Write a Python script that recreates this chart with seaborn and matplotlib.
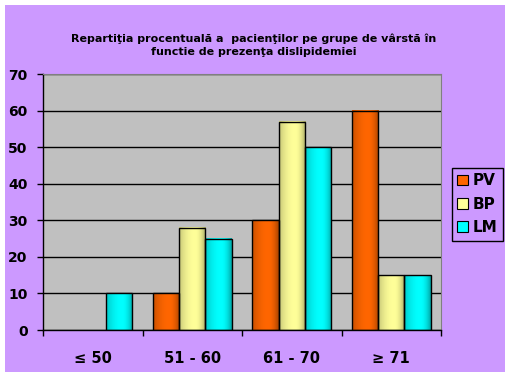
import numpy as np
import pandas as pd
import seaborn as sns
import matplotlib.pyplot as plt
from matplotlib.patches import Rectangle
from matplotlib.colors import to_rgb

# data
groups = ["≤ 50", "51 - 60", "61 - 70", "≥ 71"]
series = ["PV", "BP", "LM"]
pv = [0, 10, 30, 60]
bp = [0, 28, 57, 15]
lm = [10, 25, 50, 15]
yticks = [0, 10, 20, 30, 40, 50, 60, 70]
title = "Repartiţia procentuală a  pacienţilor pe grupe de vârstă în\nfunctie de prezenţa dislipidemiei"

colors = {"PV": "#FF6600", "BP": "#FFFF99", "LM": "#00FFFF"}
lilac = "#CC99FF"

df = pd.DataFrame({"grupa": groups * 3,
                   "serie": np.repeat(series, len(groups)),
                   "val": pv + bp + lm})

sns.set_style("ticks")
plt.rcParams["font.family"] = ["DejaVu Sans"]
plt.rcParams["text.color"] = "black"
plt.rcParams["xtick.color"] = "black"
plt.rcParams["ytick.color"] = "black"

W, H = 511, 377
fig = plt.figure(figsize=(W / 100, H / 100), dpi=100, facecolor="white")
fig.add_artist(Rectangle((5 / W, 5 / H), 500 / W, 367 / H, transform=fig.transFigure,
                         facecolor=lilac, edgecolor="none", zorder=-5))

ax = fig.add_axes([43 / W, 47 / H, 398 / W, 256 / H])
sns.barplot(data=df, x="grupa", y="val", hue="serie", order=groups, hue_order=series,
            palette=colors, saturation=1, width=0.79, edgecolor="black", linewidth=1,
            legend=False, ax=ax)

# cylinder-ish shading on every bar (darker left, darkest right edge)
t = np.linspace(0, 1, 64)
fac = np.where(t < 0.6, 1 - 0.22 * ((t - 0.6) / 0.6) ** 2,
               1 - 0.35 * ((t - 0.6) / 0.4) ** 2)
for p in list(ax.patches):
    h = p.get_height()
    if h <= 0:
        p.set_visible(False)
        continue
    base = np.array(to_rgb(p.get_facecolor()))
    grad = np.clip(base[None, None, :] * fac[None, :, None], 0, 1)
    x0 = p.get_x()
    ax.imshow(grad, extent=[x0, x0 + p.get_width(), p.get_y(), p.get_y() + h],
              aspect="auto", interpolation="bilinear", zorder=2.4)
    p.set_facecolor("none")
    p.set_zorder(2.5)

ax.set_facecolor("#C0C0C0")
ax.set_xlim(-0.5, len(groups) - 0.5)
ax.set_ylim(0, 70)
ax.set_yticks(yticks)
ax.set_yticklabels([str(v) for v in yticks], fontweight="bold", fontsize=10)
ax.set_xticks(range(len(groups)))
ax.set_xticklabels(groups, fontweight="bold", fontsize=10.5)
ax.set_xticks(np.arange(-0.5, len(groups)), minor=True)
ax.tick_params(axis="x", which="major", length=0, pad=15)
ax.tick_params(axis="x", which="minor", length=4, width=1, color="black", direction="out")
ax.tick_params(axis="y", length=4, width=1, color="black", pad=7, direction="out")
ax.set_xlabel("")
ax.set_ylabel("")
ax.set_axisbelow(True)
ax.yaxis.grid(True, color="black", linewidth=1)
for s in ["top", "right"]:
    ax.spines[s].set_color("#808080")
for s in ["left", "bottom"]:
    ax.spines[s].set_color("black")
    ax.spines[s].set_linewidth(1)

handles = [Rectangle((0, 0), 1, 1, facecolor=colors[s], edgecolor="black", linewidth=0.8)
           for s in series]
leg = fig.legend(handles, series, loc="upper left", bbox_to_anchor=(452 / W, 1 - 168 / H),
                 frameon=True, fancybox=False, framealpha=1, facecolor=lilac, edgecolor="black",
                 prop={"weight": "bold", "size": 11}, handlelength=0.7, handleheight=0.7,
                 handletextpad=0.3, borderpad=0.35, labelspacing=0.55, borderaxespad=0)
leg.get_frame().set_linewidth(1)

fig.text(254 / W, 1 - 45 / H, title, ha="center", va="center", fontsize=8.0,
         fontweight="heavy", linespacing=1.35)

fig.savefig("out.png", dpi=100)
